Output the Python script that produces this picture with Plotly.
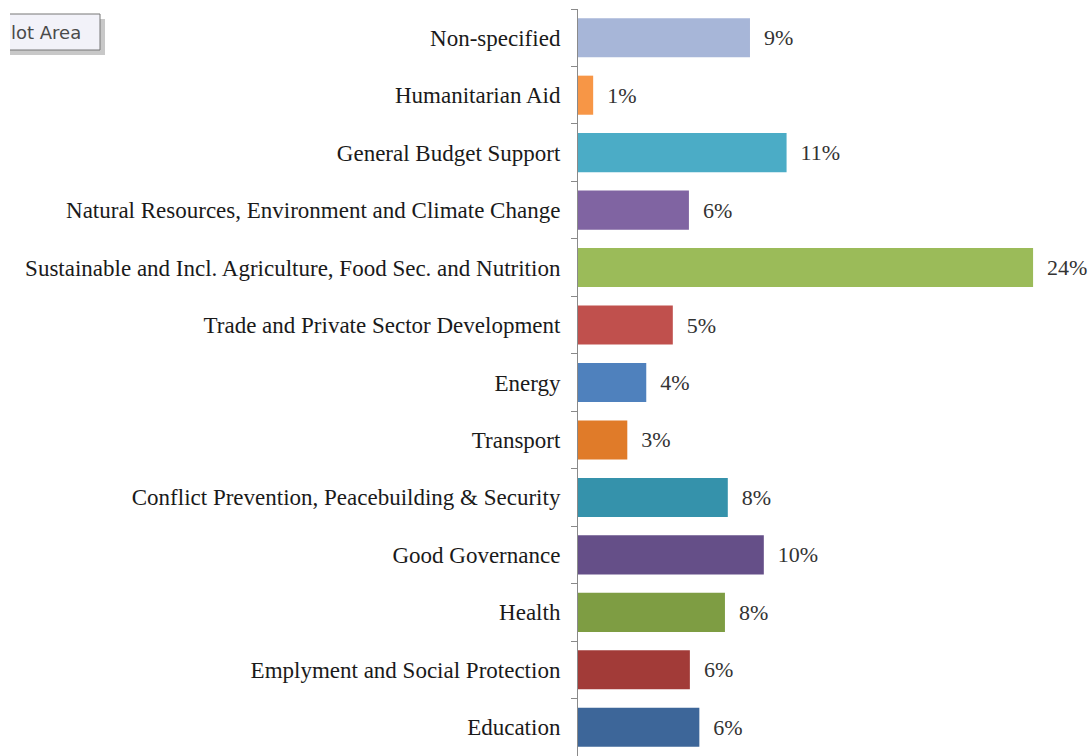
import plotly.graph_objects as go

categories = [
    "Non-specified",
    "Humanitarian Aid",
    "General Budget Support",
    "Natural Resources, Environment and Climate Change",
    "Sustainable and Incl. Agriculture, Food Sec. and Nutrition",
    "Trade and Private Sector Development",
    "Energy",
    "Transport",
    "Conflict Prevention, Peacebuilding & Security",
    "Good Governance",
    "Health",
    "Emplyment and Social Protection",
    "Education",
]
values = [9.07, 0.8, 11.0, 5.85, 24.0, 5.0, 3.6, 2.6, 7.9, 9.8, 7.75, 5.9, 6.4]
value_labels = ["9%", "1%", "11%", "6%", "24%", "5%", "4%", "3%", "8%", "10%", "8%", "6%", "6%"]
colors = [
    "#A7B6D8", "#F79646", "#4BACC6", "#8064A2", "#9BBB59", "#C0504D", "#4F81BD",
    "#E07B29", "#3592AB", "#654F88", "#7E9D43", "#A23B38", "#3D6699",
]

W, H = 1091, 756
L, R, T, B = 578, 20, 9, 0
pw = W - L - R
ph = H - T - B

fig = go.Figure()
fig.add_trace(go.Bar(
    y=categories,
    x=values,
    orientation="h",
    marker=dict(color=colors, line=dict(width=0)),
    text=["\u00a0\u00a0" + t for t in value_labels],
    textposition="outside",
    constraintext="none",
    cliponaxis=False,
    textfont=dict(family="Liberation Serif", size=22, color="#333333"),
    hoverinfo="skip",
))

fig.update_layout(
    width=W, height=H,
    margin=dict(l=L, r=R, t=T, b=B),
    paper_bgcolor="white",
    plot_bgcolor="white",
    bargap=0.32,
    showlegend=False,
    xaxis=dict(range=[0, 26], visible=False, fixedrange=True),
    yaxis=dict(
        type="category",
        range=[12.5, -0.5],
        automargin=False,
        fixedrange=True,
        showline=True, linecolor="#8A8A8A", linewidth=1,
        ticks="outside", ticklen=6, tickcolor="#8A8A8A", tickson="boundaries",
        ticklabelstandoff=12,
        tickfont=dict(family="Liberation Serif", size=23, color="#1a1a1a"),
        showgrid=False, zeroline=False,
    ),
)

# "Plot Area" tooltip remnant at top-left (in figure pixel coordinates)
def px2paper_x(px):
    return (px - L) / pw

def px2paper_y(py):
    return 1 - (py - T) / ph

fig.add_shape(type="rect", xref="paper", yref="paper",
              x0=px2paper_x(10), x1=px2paper_x(105), y0=px2paper_y(55), y1=px2paper_y(19),
              fillcolor="#9a9a9a", line=dict(width=0), opacity=0.55, layer="above")
fig.add_shape(type="rect", xref="paper", yref="paper",
              x0=px2paper_x(10), x1=px2paper_x(100), y0=px2paper_y(50), y1=px2paper_y(14),
              fillcolor="#F2F2F9", line=dict(width=0), layer="above")
border = "M{x0},{y0} L{x1},{y0} L{x1},{y1} L{x0},{y1}".format(
    x0=px2paper_x(10), x1=px2paper_x(100), y0=px2paper_y(14), y1=px2paper_y(50))
fig.add_shape(type="path", xref="paper", yref="paper", path=border,
              line=dict(color="#777777", width=1), layer="above")
fig.add_annotation(xref="paper", yref="paper", x=px2paper_x(9), y=px2paper_y(32),
                   xanchor="left", yanchor="middle", showarrow=False,
                   text="lot Area", font=dict(family="DejaVu Sans", size=18, color="#4a4a4a"))

fig.write_html(
    "out.html",
    config={"displayModeBar": False},
    post_script="document.body.style.margin='0';document.body.style.overflow='hidden';",
)
